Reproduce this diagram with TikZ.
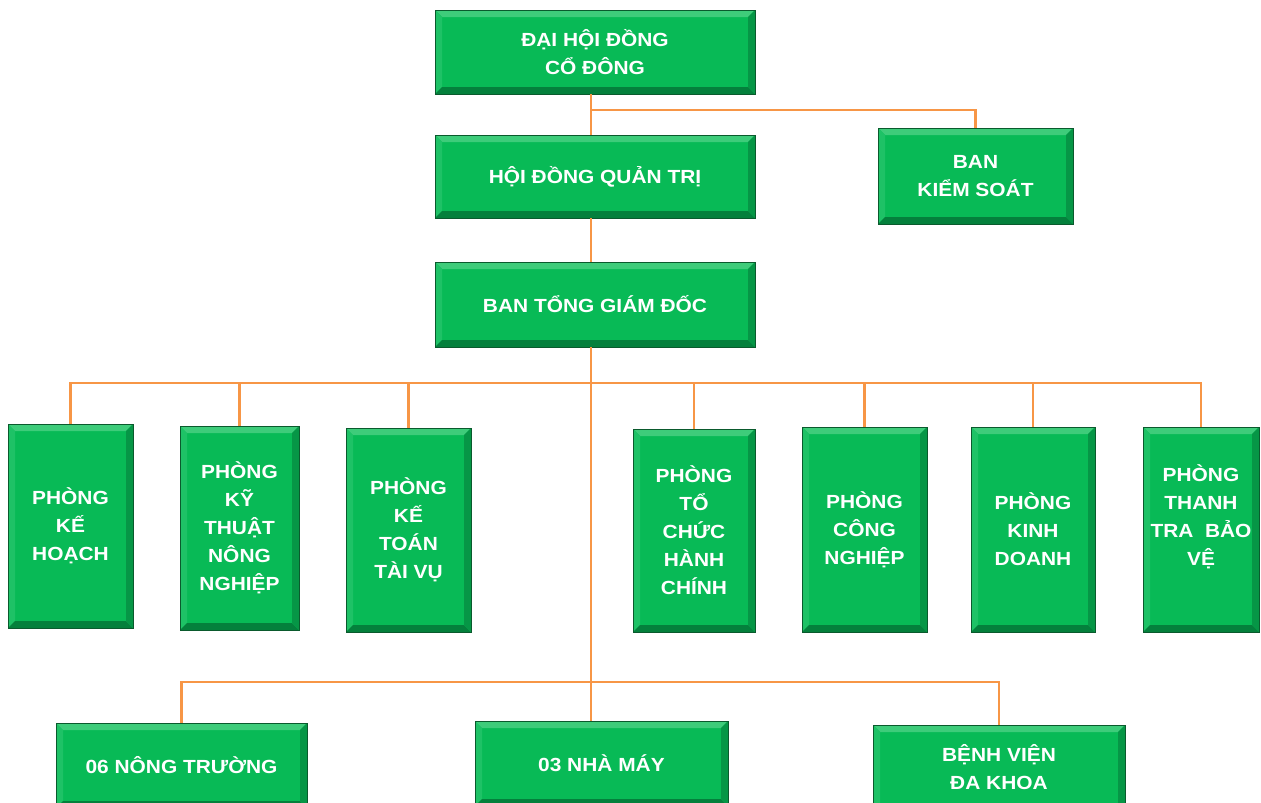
\documentclass[tikz,border=0pt]{standalone}
\usepackage{fontspec}
\newfontfamily\boxfont{Liberation Sans}[FakeStretch=1.1]
\usetikzlibrary{calc}
\definecolor{boxgreen}{RGB}{8,186,86}
\definecolor{bevlight}{RGB}{62,204,122}
\definecolor{bevmid}{RGB}{30,194,102}
\definecolor{bevdark}{RGB}{6,150,70}
\definecolor{bevdarker}{RGB}{4,128,60}
\definecolor{boxedge}{RGB}{10,90,45}
\definecolor{linkorange}{RGB}{247,150,70}
\tikzset{
  orgbox/.style={draw=boxedge, line width=0.7pt, fill=boxgreen, text=white,
    font=\boxfont\bfseries\fontsize{19}{28}\selectfont, align=center, inner sep=0pt,
    path picture={
      \fill[bevlight] (path picture bounding box.north west) -- (path picture bounding box.north east)
        -- ($(path picture bounding box.north east)+(-7pt,-7pt)$) -- ($(path picture bounding box.north west)+(7pt,-7pt)$) -- cycle;
      \fill[bevmid] (path picture bounding box.north west) -- ($(path picture bounding box.north west)+(7pt,-7pt)$)
        -- ($(path picture bounding box.south west)+(7pt,7pt)$) -- (path picture bounding box.south west) -- cycle;
      \fill[bevdarker] (path picture bounding box.south west) -- (path picture bounding box.south east)
        -- ($(path picture bounding box.south east)+(-7pt,7pt)$) -- ($(path picture bounding box.south west)+(7pt,7pt)$) -- cycle;
      \fill[bevdark] (path picture bounding box.north east) -- (path picture bounding box.south east)
        -- ($(path picture bounding box.south east)+(-7pt,7pt)$) -- ($(path picture bounding box.north east)+(-7pt,-7pt)$) -- cycle;
    }},
  link/.style={draw=linkorange, line width=2.5pt}
}
\begin{document}
\begin{tikzpicture}[x=1pt,y=-1pt]
\clip (0,0) rectangle (1261,803);
\fill[white] (0,0) rectangle (1261,803);
\coordinate (t1) at (591,110);
\coordinate (r) at (591,383);
\coordinate (b) at (591,682);
\node[orgbox, minimum width=320, minimum height=84] (dhd) at (595,52) {ĐẠI HỘI ĐỒNG\\CỔ ĐÔNG};
\node[orgbox, minimum width=320, minimum height=83] (hdqt) at (595,176.5) {HỘI ĐỒNG QUẢN TRỊ};
\node[orgbox, minimum width=195, minimum height=96] (bks) at (975.5,176) {BAN\\KIỂM SOÁT};
\node[orgbox, minimum width=320, minimum height=85] (btgd) at (595,304.5) {BAN TỔNG GIÁM ĐỐC};
\node[orgbox, minimum width=125, minimum height=204] (pkh) at (70.5,526) {PHÒNG\\KẾ\\HOẠCH};
\node[orgbox, minimum width=119, minimum height=204] (pktnn) at (239.5,528) {PHÒNG\\KỸ\\THUẬT\\NÔNG\\NGHIỆP};
\node[orgbox, minimum width=125, minimum height=204] (pkttv) at (408.5,530) {PHÒNG\\KẾ\\TOÁN\\TÀI VỤ};
\node[orgbox, minimum width=122, minimum height=203] (ptchc) at (694,530.5) {PHÒNG\\TỔ\\CHỨC\\HÀNH\\CHÍNH};
\node[orgbox, minimum width=125, minimum height=205] (pcn) at (864.5,529.5) {PHÒNG\\CÔNG\\NGHIỆP};
\node[orgbox, minimum width=124, minimum height=205] (pkd) at (1033,529.5) {PHÒNG\\KINH\\DOANH};
\node[orgbox, minimum width=116, minimum height=205] (pttbv) at (1201,529.5) {PHÒNG\\THANH\\TRA\ \ BẢO\\VỆ\\\mbox{}};
\node[orgbox, minimum width=251, minimum height=85] (nt) at (181.5,765.5) {06 NÔNG TRƯỜNG};
\node[orgbox, minimum width=253, minimum height=85] (nm) at (601.5,763.5) {03 NHÀ MÁY};
\node[orgbox, minimum width=252, minimum height=85] (bv) at (999,767.5) {BỆNH VIỆN\\ĐA KHOA};
\draw[link] (dhd.south -| t1) -- (hdqt.north -| t1);
\draw[link] (hdqt.south -| t1) -- (btgd.north -| t1);
\draw[link] (btgd.south -| t1) -- (nm.north -| t1);
\draw[link] (t1) -| (bks.north);
\draw[link] (pkh.north) -- (pkh.north |- r) -- (pttbv.north |- r) -- (pttbv.north);
\draw[link] (pktnn.north |- r) -- (pktnn.north);
\draw[link] (pkttv.north |- r) -- (pkttv.north);
\draw[link] (ptchc.north |- r) -- (ptchc.north);
\draw[link] (pcn.north |- r) -- (pcn.north);
\draw[link] (pkd.north |- r) -- (pkd.north);
\draw[link] (nt.north) -- (nt.north |- b) -- (bv.north |- b) -- (bv.north);
\end{tikzpicture}
\end{document}
